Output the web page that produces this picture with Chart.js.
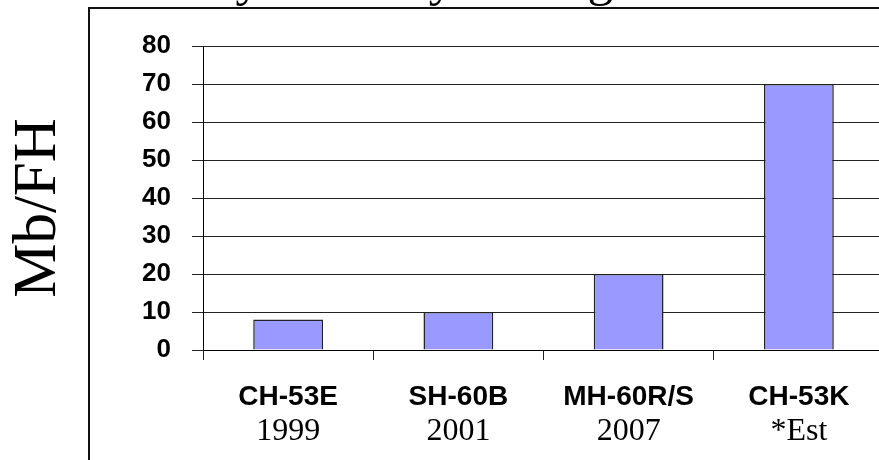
<!DOCTYPE html>
<html>
<head>
<meta charset="utf-8">
<script src="https://cdn.jsdelivr.net/npm/chart.js@4.4.1/dist/chart.umd.min.js"></script>
<style>
  html, body { margin: 0; padding: 0; background: #fff; overflow: hidden; width: 879px; height: 460px; }
  #wrap { position: absolute; left: 0; top: -60px; width: 884px; height: 520px; }
  #frame { position: absolute; left: 88px; top: 7px; width: 1000px; height: 1000px;
           border-left: 2px solid #111; border-top: 2px solid #111; pointer-events: none; }
</style>
</head>
<body>
<div id="wrap"><canvas id="memChart" width="884" height="520"></canvas></div>
<div id="frame"></div>
<script>
// 데이터
const titleText = 'Memory Intensity Vs. Age';
const axisLabel = 'Mb/FH';
const aircraft = ['CH-53E', 'SH-60B', 'MH-60R/S', 'CH-53K'];
const years = ['1999', '2001', '2007', '*Est'];
const mbPerFH = [8, 10, 20, 70];
const yTicks = [0, 10, 20, 30, 40, 50, 60, 70, 80];

// 세로 축 제목 (Mb/FH) - 차트 영역 왼쪽에 회전해서 그림
const sideLabel = {
  id: 'sideLabel',
  afterDraw(chart) {
    const c = chart.ctx;
    c.save();
    c.translate(39, 268);
    c.rotate(-Math.PI / 2);
    c.font = '61px "Liberation Serif", "Times New Roman", serif';
    c.fillStyle = '#000';
    c.textAlign = 'center';
    c.textBaseline = 'middle';
    c.fillText(axisLabel, 0, 0);
    c.restore();
  }
};

const ctx = document.getElementById('memChart');
new Chart(ctx, {
  type: 'bar',
  data: {
    labels: aircraft,
    datasets: [{
      data: mbPerFH,
      backgroundColor: '#9999ff',
      borderColor: '#222',
      borderWidth: 1.5,
      borderSkipped: 'bottom',
      categoryPercentage: 1,
      barPercentage: 0.41,
      xAxisID: 'x',
      yAxisID: 'y'
    }]
  },
  options: {
    responsive: false,
    animation: false,
    layout: { padding: { left: 84, right: 0, top: 0, bottom: 0 } },
    plugins: {
      legend: { display: false },
      tooltip: { enabled: false },
      // 제목은 위쪽이 잘려서 꼬리 부분만 보임
      title: {
        display: true,
        text: titleText,
        align: 'start',
        color: '#000',
        font: { family: '"Liberation Serif", "Times New Roman", serif', size: 51.5, weight: 'normal', lineHeight: 1 },
        padding: { top: 16, bottom: 38.5 }
      }
    },
    scales: {
      x: {
        type: 'category',
        position: 'bottom',
        grid: { display: true, drawOnChartArea: false, offset: true, color: '#222', tickLength: 10, lineWidth: 1 },
        border: { display: true, color: '#000', width: 1 },
        ticks: {
          color: '#000', padding: 23, maxRotation: 0, autoSkip: false,
          font: { family: '"Liberation Sans", Arial, sans-serif', size: 28, weight: 'bold', lineHeight: 1 }
        },
        afterFit(s) { s.height = 58; }
      },
      x2: {
        type: 'category',
        position: 'bottom',
        labels: years,
        grid: { display: false, drawTicks: false },
        border: { display: false },
        ticks: {
          color: '#000', padding: 8, maxRotation: 0, autoSkip: false,
          font: { family: '"Liberation Serif", "Times New Roman", serif', size: 32, lineHeight: 1 }
        },
        afterFit(s) { s.height = 52; }
      },
      y: {
        min: 0,
        max: 80,
        afterBuildTicks(s) { s.ticks = yTicks.map(v => ({ value: v })); },
        grid: { color: '#222', lineWidth: 1, tickLength: 11 },
        border: { display: true, color: '#000', width: 1 },
        ticks: {
          color: '#000', padding: 21,
          font: { family: '"Liberation Sans", Arial, sans-serif', size: 26, weight: 'bold', lineHeight: 1 }
        },
        afterFit(s) { s.width = 119; }
      }
    }
  },
  plugins: [sideLabel]
});
</script>
</body>
</html>
